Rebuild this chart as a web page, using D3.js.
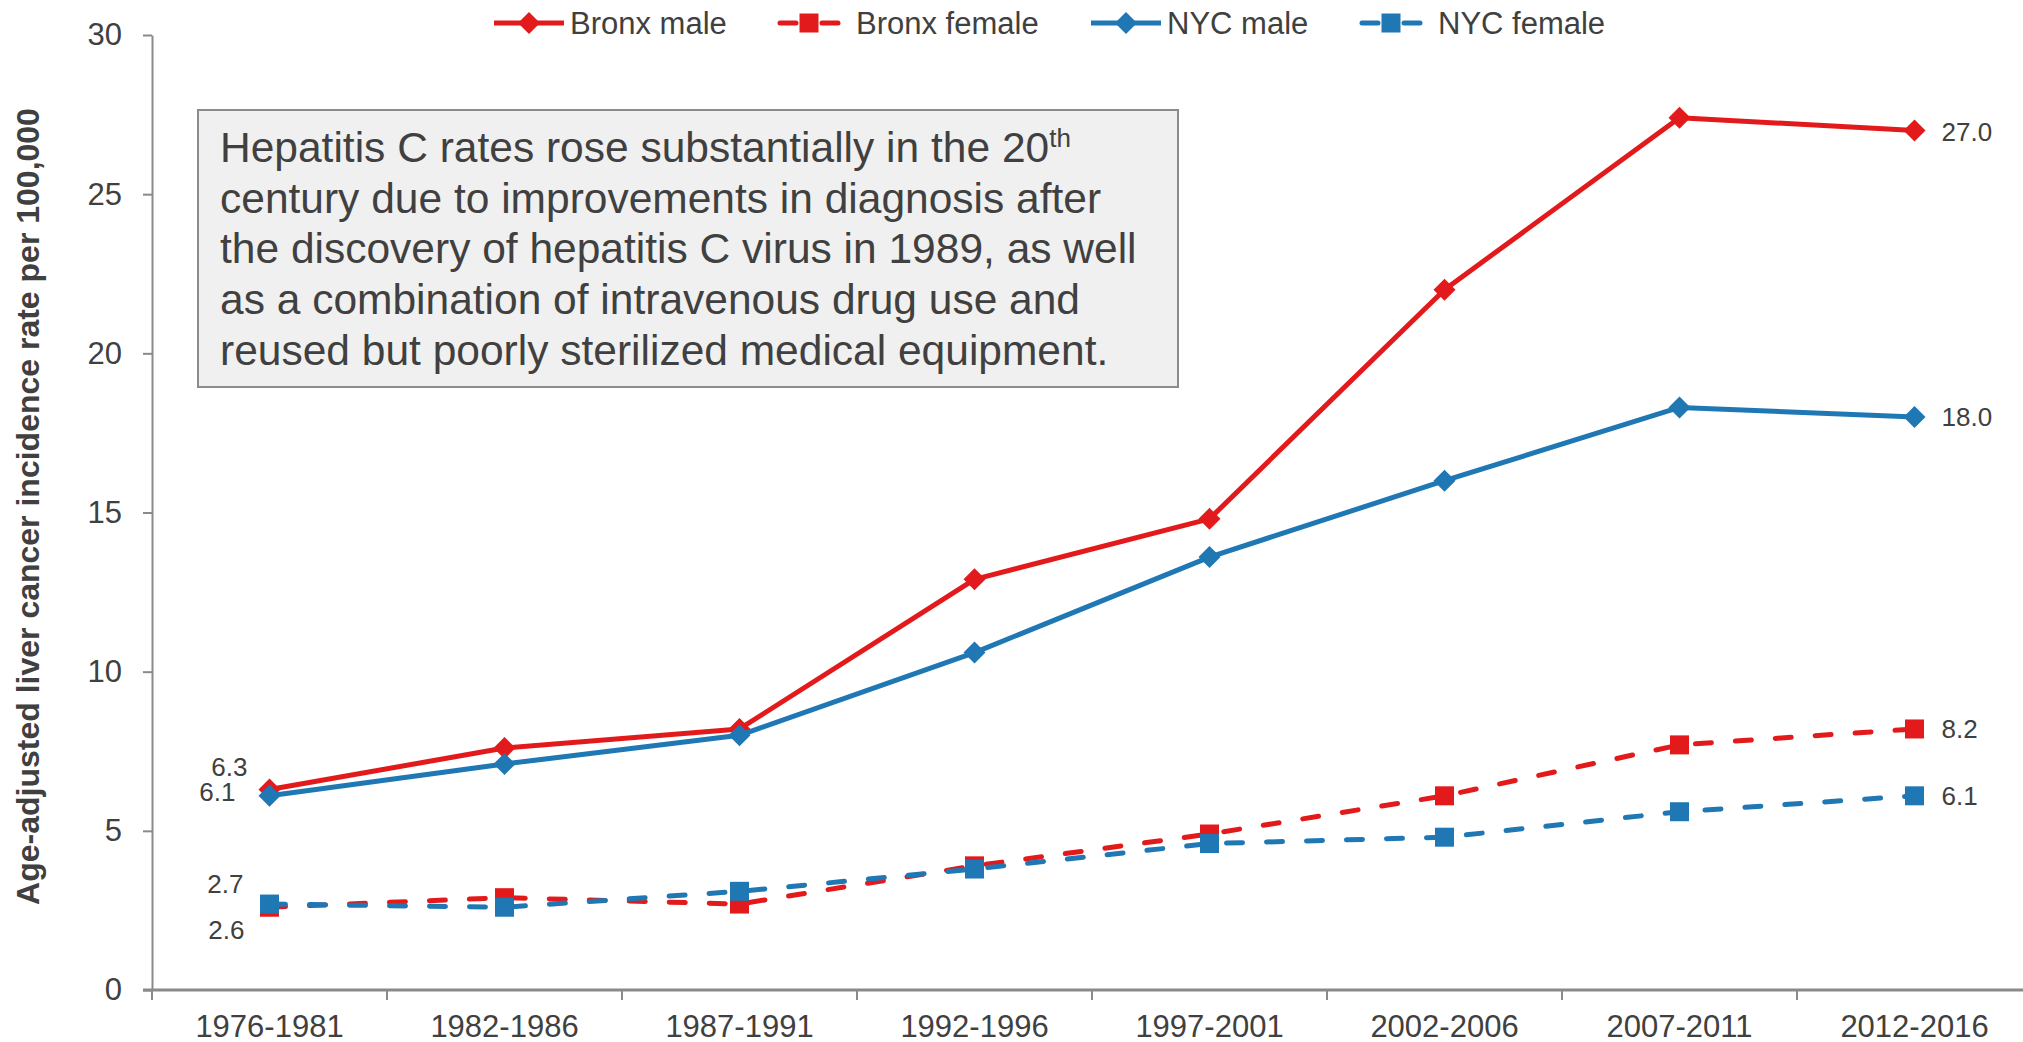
<!DOCTYPE html>
<html>
<head>
<meta charset="utf-8">
<script src="https://cdn.jsdelivr.net/npm/d3@7"></script>
<style>
  body { margin: 0; background: #fff; }
  svg { display: block; font-family: "Liberation Sans", Arial, sans-serif; }
</style>
</head>
<body>
<div id="chart"></div>
<script>
// data
var periods = ["1976-1981", "1982-1986", "1987-1991", "1992-1996", "1997-2001", "2002-2006", "2007-2011", "2012-2016"];
var bronxMale   = [6.3, 7.6, 8.2, 12.9, 14.8, 22.0, 27.4, 27.0];
var bronxFemale = [2.6, 2.9, 2.7, 3.9, 4.9, 6.1, 7.7, 8.2];
var nycMale     = [6.1, 7.1, 8.0, 10.6, 13.6, 16.0, 18.3, 18.0];
var nycFemale   = [2.7, 2.6, 3.1, 3.8, 4.6, 4.8, 5.6, 6.1];
var yTicks = [0, 5, 10, 15, 20, 25, 30];
var seriesNames = ["Bronx male", "Bronx female", "NYC male", "NYC female"];
var noteLines = [
  "Hepatitis C rates rose substantially in the 20",
  "century due to improvements in diagnosis after",
  "the discovery of hepatitis C virus in 1989, as well",
  "as a combination of intravenous drug use and",
  "reused but poorly sterilized medical equipment."
];

var W = 2023, H = 1042;
var red = "#e31a1c", blue = "#1f78b4", textCol = "#404040", axisCol = "#8a8a8a";

var series = [
  {name: seriesNames[0], values: bronxMale,   color: red,  dashed: false},
  {name: seriesNames[1], values: bronxFemale, color: red,  dashed: true},
  {name: seriesNames[2], values: nycMale,     color: blue, dashed: false},
  {name: seriesNames[3], values: nycFemale,   color: blue, dashed: true}
];

var svg = d3.select("#chart").append("svg")
    .attr("width", W)
    .attr("height", H);

var x = d3.scaleBand()
    .domain(periods)
    .range([152, 2032]);
var y = d3.scaleLinear()
    .domain([0, 30])
    .range([990, 35]);

// y axis
var yAxis = svg.append("g")
    .attr("transform", "translate(152,0)")
    .call(d3.axisLeft(y).tickValues(yTicks).tickSize(9).tickSizeOuter(0).tickPadding(21));
yAxis.select(".domain").attr("stroke", axisCol).attr("stroke-width", 2);
yAxis.selectAll(".tick line").attr("stroke", axisCol).attr("stroke-width", 2);
yAxis.selectAll(".tick text")
    .attr("fill", textCol)
    .style("font-size", "31px")
    .style("font-family", "Liberation Sans, Arial, sans-serif");

// x axis: labels centred in bands, ticks on band edges
var xAxis = svg.append("g")
    .attr("transform", "translate(0,990)")
    .call(d3.axisBottom(x).tickSize(0).tickPadding(25));
xAxis.select(".domain").remove();
xAxis.selectAll(".tick text")
    .attr("fill", textCol)
    .style("font-size", "31px")
    .style("font-family", "Liberation Sans, Arial, sans-serif");

svg.append("line")
    .attr("x1", 143).attr("x2", W)
    .attr("y1", y(0)).attr("y2", y(0))
    .attr("stroke", axisCol).attr("stroke-width", 3);

svg.append("g").selectAll("line")
    .data(periods)
    .enter()
    .append("line")
    .attr("x1", function(d) { return x(d); })
    .attr("x2", function(d) { return x(d); })
    .attr("y1", y(0))
    .attr("y2", y(0) + 10)
    .attr("stroke", axisCol)
    .attr("stroke-width", 2);

// y axis title
svg.append("text")
    .attr("transform", "translate(39," + ((y(0) + y(30)) / 2 - 6) + ")rotate(-90)")
    .attr("text-anchor", "middle")
    .attr("fill", textCol)
    .style("font-size", "32px")
    .style("font-weight", "bold")
    .text("Age-adjusted liver cancer incidence rate per 100,000");

// annotation box
svg.append("rect")
    .attr("x", 198).attr("y", 110)
    .attr("width", 980).attr("height", 277)
    .attr("fill", "#f0f0f0")
    .attr("stroke", "#8c8c8c")
    .attr("stroke-width", 2);

var note = svg.append("text")
    .attr("fill", textCol)
    .style("font-size", "42.5px");
noteLines.forEach(function(line, i) {
    note.append("tspan")
        .attr("x", 220)
        .attr("y", 162 + i * 50.7)
        .text(line);
    if (i == 0) {
        note.append("tspan")
            .attr("dy", -15)
            .style("font-size", "26px")
            .text("th");
    }
});

// lines and markers
var line = d3.line()
    .x(function(d, i) { return x(periods[i]) + x.bandwidth() / 2; })
    .y(function(d) { return y(d); });

var diamond = "M0,-11L11,0L0,11L-11,0Z";
var square = "M-9.5,-9.5H9.5V9.5H-9.5Z";

series.forEach(function(s) {
    var g = svg.append("g");
    g.append("path")
        .datum(s.values)
        .attr("fill", "none")
        .attr("stroke", s.color)
        .attr("stroke-width", 5)
        .attr("stroke-linejoin", "round")
        .attr("stroke-linecap", s.dashed ? "round" : "butt")
        .attr("stroke-dasharray", s.dashed ? "16,24" : null)
        .attr("d", line);

    g.selectAll(".pt")
        .data(s.values)
        .enter()
        .append("path")
        .attr("class", "pt")
        .attr("transform", function(d, i) {
            return "translate(" + (x(periods[i]) + x.bandwidth() / 2) + "," + y(d) + ")";
        })
        .attr("d", s.dashed ? square : diamond)
        .attr("fill", s.color);
});

// value labels: series index, point index, offsets
var valueLabels = [
    {s: 0, i: 0, dx: -22, dy: -13, anchor: "end"},
    {s: 2, i: 0, dx: -34, dy: 5, anchor: "end"},
    {s: 3, i: 0, dx: -26, dy: -11, anchor: "end"},
    {s: 1, i: 0, dx: -25, dy: 32, anchor: "end"},
    {s: 0, i: 7, dx: 27, dy: 10, anchor: "start"},
    {s: 2, i: 7, dx: 27, dy: 9, anchor: "start"},
    {s: 1, i: 7, dx: 27, dy: 9, anchor: "start"},
    {s: 3, i: 7, dx: 27, dy: 9, anchor: "start"}
];

svg.append("g").selectAll("text")
    .data(valueLabels)
    .enter()
    .append("text")
    .attr("x", function(d) { return x(periods[d.i]) + x.bandwidth() / 2 + d.dx; })
    .attr("y", function(d) { return y(series[d.s].values[d.i]) + d.dy; })
    .attr("text-anchor", function(d) { return d.anchor; })
    .attr("fill", textCol)
    .style("font-size", "26px")
    .text(function(d) { return series[d.s].values[d.i].toFixed(1); });

// legend
var legendX = [494, 778, 1091, 1360];
var legend = svg.append("g").selectAll("g")
    .data(series)
    .enter()
    .append("g")
    .attr("transform", function(d, i) { return "translate(" + legendX[i] + ",23)"; });

legend.append("line")
    .attr("x1", function(d) { return d.dashed ? 2 : 0; })
    .attr("x2", function(d) { return d.dashed ? 60 : 70; })
    .attr("stroke", function(d) { return d.color; })
    .attr("stroke-width", 5)
    .attr("stroke-linecap", function(d) { return d.dashed ? "round" : "butt"; })
    .attr("stroke-dasharray", function(d) { return d.dashed ? "16,26" : null; });

legend.append("path")
    .attr("transform", function(d) { return "translate(" + (d.dashed ? 31 : 35) + ",0)"; })
    .attr("d", function(d) { return d.dashed ? square : diamond; })
    .attr("fill", function(d) { return d.color; });

legend.append("text")
    .attr("x", function(d) { return d.dashed ? 78 : 76; })
    .attr("dy", "0.35em")
    .attr("fill", textCol)
    .style("font-size", "31px")
    .text(function(d) { return d.name; });
</script>
</body>
</html>
